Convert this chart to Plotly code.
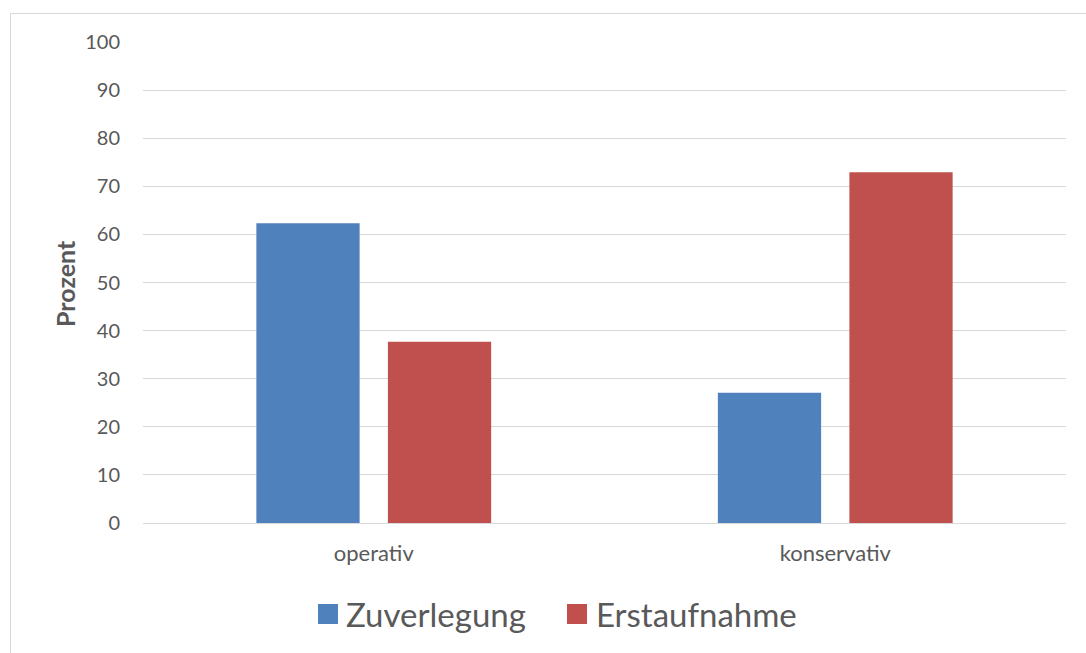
import plotly.graph_objects as go

# Share of cases by treatment and admission type (percent)
categories = ["operativ", "konservativ"]
zuverlegung = [62.3, 27.1]
erstaufnahme = [37.7, 72.9]
series_names = ["Zuverlegung", "Erstaufnahme"]
series_colors = ["#4F81BD", "#C0504D"]
y_ticks = [0, 10, 20, 30, 40, 50, 60, 70, 80, 90, 100]

W, H = 1086, 653
ML, MR, MT, MB = 143, 20, 42, 130
PW, PH = W - ML - MR, H - MT - MB
FONT = "Lato"
TEXT = "#595959"
GRID = "#D9D9D9"


def px_x(px):
    return (px - ML) / PW


def px_y(py):
    return (H - MB - py) / PH


fig = go.Figure()
for name, vals, col in zip(series_names, [zuverlegung, erstaufnahme], series_colors):
    fig.add_trace(go.Bar(x=categories, y=vals, name=name, marker_color=col,
                         marker_line_width=0, showlegend=False))

shapes = [
    # outer chart frame
    dict(type="rect", xref="paper", yref="paper",
         x0=px_x(10.5), x1=px_x(1100), y0=px_y(670), y1=px_y(13.5),
         line=dict(color=GRID, width=1), fillcolor="rgba(0,0,0,0)", layer="below"),
]
annotations = [
    dict(text="<b>Prozent</b>", textangle=-90, xref="paper", yref="paper",
         x=px_x(65), y=px_y(284), xanchor="center", yanchor="middle", showarrow=False,
         font=dict(family=FONT, size=25, color=TEXT)),
]

# legend: colour squares followed by series names
legend_items = [(318, 347), (567, 597)]
for (sq_x, txt_x), name, col in zip(legend_items, series_names, series_colors):
    shapes.append(dict(type="rect", xref="paper", yref="paper",
                       x0=px_x(sq_x), x1=px_x(sq_x + 20), y0=px_y(624), y1=px_y(604),
                       line=dict(width=0), fillcolor=col))
    annotations.append(dict(text=name, xref="paper", yref="paper",
                            x=px_x(txt_x - 3), y=px_y(614), xanchor="left", yanchor="middle",
                            showarrow=False, font=dict(family=FONT, size=33, color=TEXT)))

fig.update_layout(
    width=W, height=H,
    margin=dict(l=ML, r=MR, t=MT, b=MB, autoexpand=False),
    paper_bgcolor="white", plot_bgcolor="white",
    barmode="group", bargap=0.43, bargroupgap=0.215,
    font=dict(family=FONT, color=TEXT),
    shapes=shapes, annotations=annotations,
    showlegend=False,
)
fig.update_xaxes(showgrid=False, showline=False, ticks="", zeroline=False,
                 tickfont=dict(family=FONT, size=22, color=TEXT), ticklabelstandoff=15)
fig.update_yaxes(range=[0, 100], tickvals=y_ticks, showgrid=True, gridcolor=GRID,
                 gridwidth=1, zeroline=True, zerolinecolor=GRID, zerolinewidth=1,
                 showline=False, ticks="", tickfont=dict(family=FONT, size=20, color=TEXT),
                 ticklabelstandoff=22)

fig.write_html("out.html")
